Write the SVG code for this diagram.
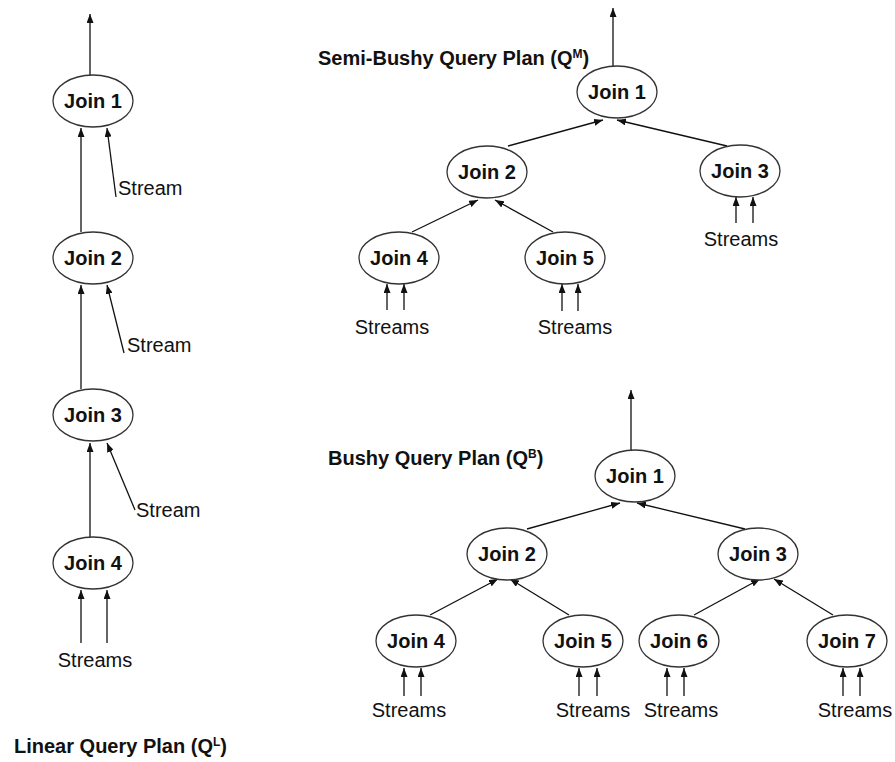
<svg xmlns="http://www.w3.org/2000/svg" width="895" height="762" viewBox="0 0 895 762">
  <style>
    .node ellipse { fill: #ffffff; stroke: #333333; stroke-width: 1.3; }
    .node text { font-family: "Liberation Sans", Arial, sans-serif; font-size: 20px; font-weight: bold; fill: #111111; text-anchor: middle; }
    .edge { stroke: #111111; stroke-width: 1.3; fill: none; marker-end: url(#tip); }
    .lbl { font-family: "Liberation Sans", Arial, sans-serif; font-size: 20px; fill: #111111; }
    .mid { text-anchor: middle; }
    .title { font-family: "Liberation Sans", Arial, sans-serif; font-size: 20px; font-weight: bold; fill: #111111; }
    .sup { font-size: 12px; }
  </style>
  <defs>
    <marker id="tip" viewBox="0 0 9 7" refX="9" refY="3.5" markerWidth="9" markerHeight="7" markerUnits="userSpaceOnUse" orient="auto">
      <path d="M0,0 L9,3.5 L0,7 z" fill="#111111"/>
    </marker>
  </defs>

  <!-- Linear plan -->
  <g id="connectors">
    <line class="edge" x1="90" y1="75" x2="90" y2="14"/>
    <line class="edge" x1="81" y1="232" x2="81" y2="128"/>
    <line class="edge" x1="116" y1="197" x2="107" y2="128"/>
    <line class="edge" x1="81" y1="389" x2="81" y2="285"/>
    <line class="edge" x1="124" y1="353" x2="107" y2="285"/>
    <line class="edge" x1="90" y1="537" x2="90" y2="443"/>
    <line class="edge" x1="135" y1="510" x2="107" y2="443"/>
    <line class="edge" x1="81" y1="643" x2="81" y2="590"/>
    <line class="edge" x1="107" y1="643" x2="107" y2="590"/>

    <!-- Semi-bushy plan -->
    <line class="edge" x1="613" y1="66" x2="613" y2="8"/>
    <line class="edge" x1="508" y1="146" x2="603" y2="120"/>
    <line class="edge" x1="727" y1="146" x2="617" y2="120"/>
    <line class="edge" x1="412" y1="232" x2="478" y2="200"/>
    <line class="edge" x1="553" y1="232" x2="495" y2="200"/>
    <line class="edge" x1="387" y1="310" x2="387" y2="284"/>
    <line class="edge" x1="404" y1="310" x2="404" y2="284"/>
    <line class="edge" x1="562" y1="311" x2="562" y2="284"/>
    <line class="edge" x1="578" y1="311" x2="578" y2="284"/>
    <line class="edge" x1="736" y1="223" x2="736" y2="197"/>
    <line class="edge" x1="753" y1="223" x2="753" y2="197"/>

    <!-- Bushy plan -->
    <line class="edge" x1="631" y1="450" x2="631" y2="390"/>
    <line class="edge" x1="527" y1="529" x2="620" y2="503"/>
    <line class="edge" x1="745" y1="529" x2="637" y2="503"/>
    <line class="edge" x1="430" y1="615" x2="498" y2="579"/>
    <line class="edge" x1="569" y1="615" x2="510" y2="579"/>
    <line class="edge" x1="694" y1="615" x2="760" y2="579"/>
    <line class="edge" x1="833" y1="615" x2="774" y2="579"/>
    <line class="edge" x1="404" y1="696" x2="404" y2="668"/>
    <line class="edge" x1="421" y1="696" x2="421" y2="668"/>
    <line class="edge" x1="579" y1="696" x2="579" y2="668"/>
    <line class="edge" x1="597" y1="696" x2="597" y2="668"/>
    <line class="edge" x1="667" y1="696" x2="667" y2="668"/>
    <line class="edge" x1="684" y1="696" x2="684" y2="668"/>
    <line class="edge" x1="843" y1="696" x2="843" y2="668"/>
    <line class="edge" x1="860" y1="696" x2="860" y2="668"/>
  </g>

  <!-- Linear plan nodes -->
  <g id="L-join1" class="node"><ellipse cx="93" cy="101" rx="40" ry="26"/><text x="93" y="108">Join 1</text></g>
  <g id="L-join2" class="node"><ellipse cx="93" cy="258" rx="40" ry="26"/><text x="93" y="265">Join 2</text></g>
  <g id="L-join3" class="node"><ellipse cx="93" cy="415" rx="40" ry="26"/><text x="93" y="422">Join 3</text></g>
  <g id="L-join4" class="node"><ellipse cx="93" cy="563" rx="40" ry="26"/><text x="93" y="570">Join 4</text></g>
  <g id="L-labels">
    <text class="lbl" x="118" y="195">Stream</text>
    <text class="lbl" x="127" y="352">Stream</text>
    <text class="lbl" x="136" y="517">Stream</text>
    <text class="lbl mid" x="95" y="667">Streams</text>
    <text class="title" x="14" y="753">Linear Query Plan (Q<tspan class="sup" dy="-7">L</tspan><tspan dy="7">)</tspan></text>
  </g>

  <!-- Semi-bushy plan nodes -->
  <g id="M-join1" class="node"><ellipse cx="617" cy="92" rx="40" ry="26"/><text x="617" y="99">Join 1</text></g>
  <g id="M-join2" class="node"><ellipse cx="487" cy="172" rx="40" ry="26"/><text x="487" y="179">Join 2</text></g>
  <g id="M-join3" class="node"><ellipse cx="740" cy="171" rx="40" ry="26"/><text x="740" y="178">Join 3</text></g>
  <g id="M-join4" class="node"><ellipse cx="399" cy="258" rx="40" ry="26"/><text x="399" y="265">Join 4</text></g>
  <g id="M-join5" class="node"><ellipse cx="565" cy="258" rx="40" ry="26"/><text x="565" y="265">Join 5</text></g>
  <g id="M-labels">
    <text class="lbl mid" x="392" y="334">Streams</text>
    <text class="lbl mid" x="575" y="334">Streams</text>
    <text class="lbl mid" x="741" y="246">Streams</text>
    <text class="title" x="318" y="65">Semi-Bushy Query Plan (Q<tspan class="sup" dy="-7">M</tspan><tspan dy="7">)</tspan></text>
  </g>

  <!-- Bushy plan nodes -->
  <g id="B-join1" class="node"><ellipse cx="635" cy="476" rx="40" ry="26"/><text x="635" y="483">Join 1</text></g>
  <g id="B-join2" class="node"><ellipse cx="507" cy="554" rx="40" ry="26"/><text x="507" y="561">Join 2</text></g>
  <g id="B-join3" class="node"><ellipse cx="758" cy="554" rx="40" ry="26"/><text x="758" y="561">Join 3</text></g>
  <g id="B-join4" class="node"><ellipse cx="416" cy="641" rx="40" ry="26"/><text x="416" y="648">Join 4</text></g>
  <g id="B-join5" class="node"><ellipse cx="583" cy="641" rx="40" ry="26"/><text x="583" y="648">Join 5</text></g>
  <g id="B-join6" class="node"><ellipse cx="679" cy="641" rx="40" ry="26"/><text x="679" y="648">Join 6</text></g>
  <g id="B-join7" class="node"><ellipse cx="847" cy="641" rx="40" ry="26"/><text x="847" y="648">Join 7</text></g>
  <g id="B-labels">
    <text class="lbl mid" x="409" y="717">Streams</text>
    <text class="lbl mid" x="593" y="717">Streams</text>
    <text class="lbl mid" x="681" y="717">Streams</text>
    <text class="lbl mid" x="855" y="717">Streams</text>
    <text class="title" x="328" y="465">Bushy Query Plan (Q<tspan class="sup" dy="-7">B</tspan><tspan dy="7">)</tspan></text>
  </g>
</svg>
